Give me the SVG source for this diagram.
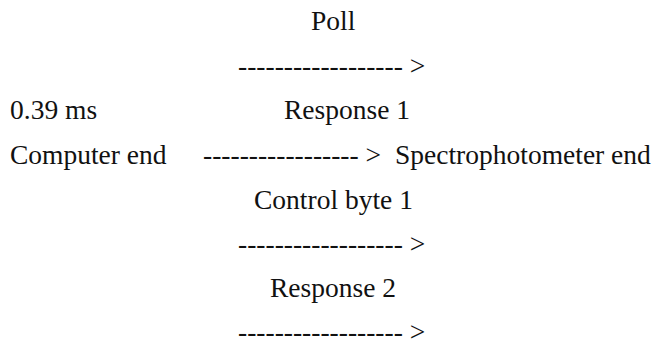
<svg xmlns="http://www.w3.org/2000/svg" width="656" height="347" viewBox="0 0 656 347">
<style>
text{font-family:"Liberation Serif","Times New Roman",serif;font-size:27.5px;fill:#111}
</style>
<rect width="656" height="347" fill="#fff"/>
<g id="left-labels">
<text x="10" y="119">0.39 ms</text>
<text x="10" y="164">Computer end</text>
</g>
<g id="right-label">
<text x="395" y="164">Spectrophotometer end</text>
</g>
<g id="messages">
<text x="311" y="30">Poll</text>
<text x="284" y="119">Response 1</text>
<text x="254" y="209">Control byte 1</text>
<text x="270" y="297">Response 2</text>
</g>
<g id="connectors">
<text x="238" y="75">------------------ &gt;</text>
<text x="203" y="164">----------------- &gt;</text>
<text x="238" y="253">------------------ &gt;</text>
<text x="238" y="341">------------------ &gt;</text>
</g>
</svg>
